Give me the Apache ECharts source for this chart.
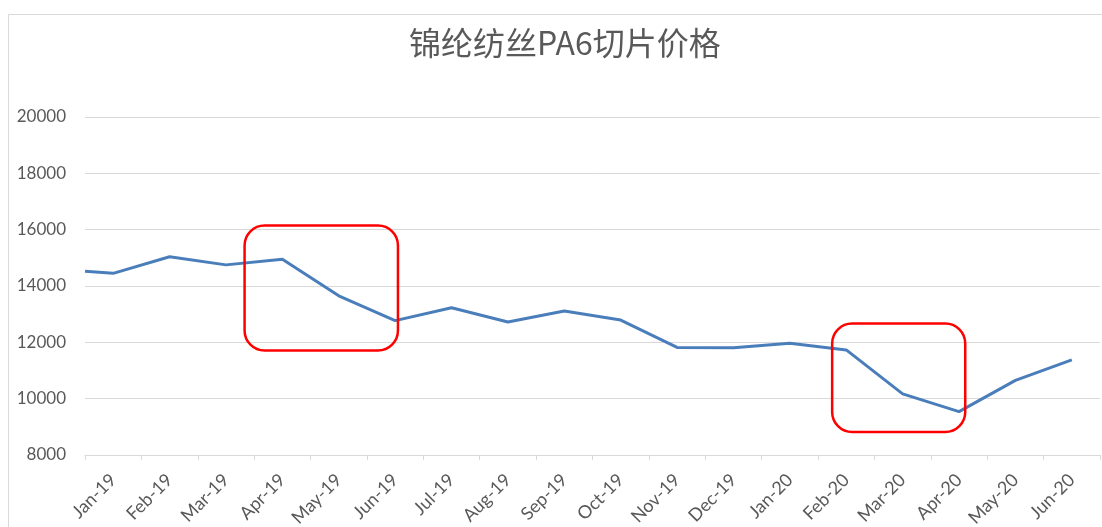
<!DOCTYPE html>
<html>
<head>
<meta charset="utf-8">
<script src="https://cdn.jsdelivr.net/npm/echarts@6/dist/echarts.min.js"></script>
<style>
html,body{margin:0;padding:0;background:#fff;}
#main{width:1102px;height:527px;}
</style>
</head>
<body>
<div id="main"></div>
<script>
// ---- data ----
var titleText = '锦纶纺丝PA6切片价格';
var categories = ['Jan-19','Feb-19','Mar-19','Apr-19','May-19','Jun-19','Jul-19','Aug-19','Sep-19',
  'Oct-19','Nov-19','Dec-19','Jan-20','Feb-20','Mar-20','Apr-20','May-20','Jun-20'];
// month position of each point (0 = Jan-19); the first point is mid-December 2018
var pointMonths = [-0.5,0,1,2,3,4,5,6,7,8,9,10,11,12,13,14,15,16,17];
var prices = [14520,14450,15040,14750,14950,13650,12770,13230,12720,13110,12790,11820,11810,11965,11730,10170,9540,10650,11380];
var yTicks = [8000,10000,12000,14000,16000,18000,20000];
// highlighted regions: [monthFrom, monthTo, priceTop, priceBottom]
var highlightBoxes = [
  [2.33, 5.05, 16150, 11710],
  [12.75, 15.11, 12670, 8820]
];

var chart = echarts.init(document.getElementById('main'), null, {renderer:'canvas'});
var labelFont = 'Lato, "Liberation Sans", sans-serif';
var option = {
  animation: false,
  backgroundColor: '#fff',
  title: {
    text: titleText,
    left: 404,
    top: 22,
    textStyle: {fontFamily:'"Noto Sans CJK SC", sans-serif', fontWeight:'normal', fontSize:32, color:'#595959'}
  },
  grid: {left: 85, right: 2, top: 117, bottom: 72, containLabel: false, outerBoundsMode: 'none'},
  xAxis: [{
    type: 'category',
    data: categories,
    boundaryGap: true,
    axisLine: {show:true, lineStyle:{color:'#d9d9d9', width:1}},
    axisTick: {show:true, alignWithLabel:false, length:5, lineStyle:{color:'#d9d9d9'}},
    axisLabel: {rotate:45, interval:0, margin:22, fontFamily:labelFont, fontSize:18, color:'#595959'},
    splitLine: {show:false}
  },{
    type: 'value',
    min: -0.5,
    max: 17.5,
    show: false
  }],
  yAxis: {
    type: 'value',
    min: yTicks[0],
    max: yTicks[yTicks.length-1],
    interval: 2000,
    axisLine: {show:false},
    axisTick: {show:false},
    axisLabel: {margin:19, fontFamily:labelFont, fontSize:17, color:'#595959',
      formatter: function(v){ return String(v); }},
    splitLine: {show:true, lineStyle:{color:'#d9d9d9', width:1}}
  },
  series: [{
    type: 'line',
    xAxisIndex: 1,
    data: pointMonths.map(function(m,i){return [m, prices[i]];}),
    showSymbol: false,
    symbol: 'none',
    lineStyle: {color:'#4a7ebb', width:3},
    itemStyle: {color:'#4a7ebb'}
  }],
  graphic: []
};
chart.setOption(option);

var g = [{
  type:'rect', silent:true, z:-1,
  shape:{x:8.5, y:14.5, width:1200, height:700},
  style:{fill:null, stroke:'#d9d9d9', lineWidth:1}
}];
highlightBoxes.forEach(function(b){
  var p1 = chart.convertToPixel({xAxisIndex:1, yAxisIndex:0}, [b[0], b[2]]);
  var p2 = chart.convertToPixel({xAxisIndex:1, yAxisIndex:0}, [b[1], b[3]]);
  g.push({
    type:'rect', silent:true, z:100,
    shape:{x:p1[0], y:p1[1], width:p2[0]-p1[0], height:p2[1]-p1[1], r:20},
    style:{fill:null, stroke:'#ff0000', lineWidth:2.5}
  });
});
chart.setOption({graphic: g});
</script>
</body>
</html>
